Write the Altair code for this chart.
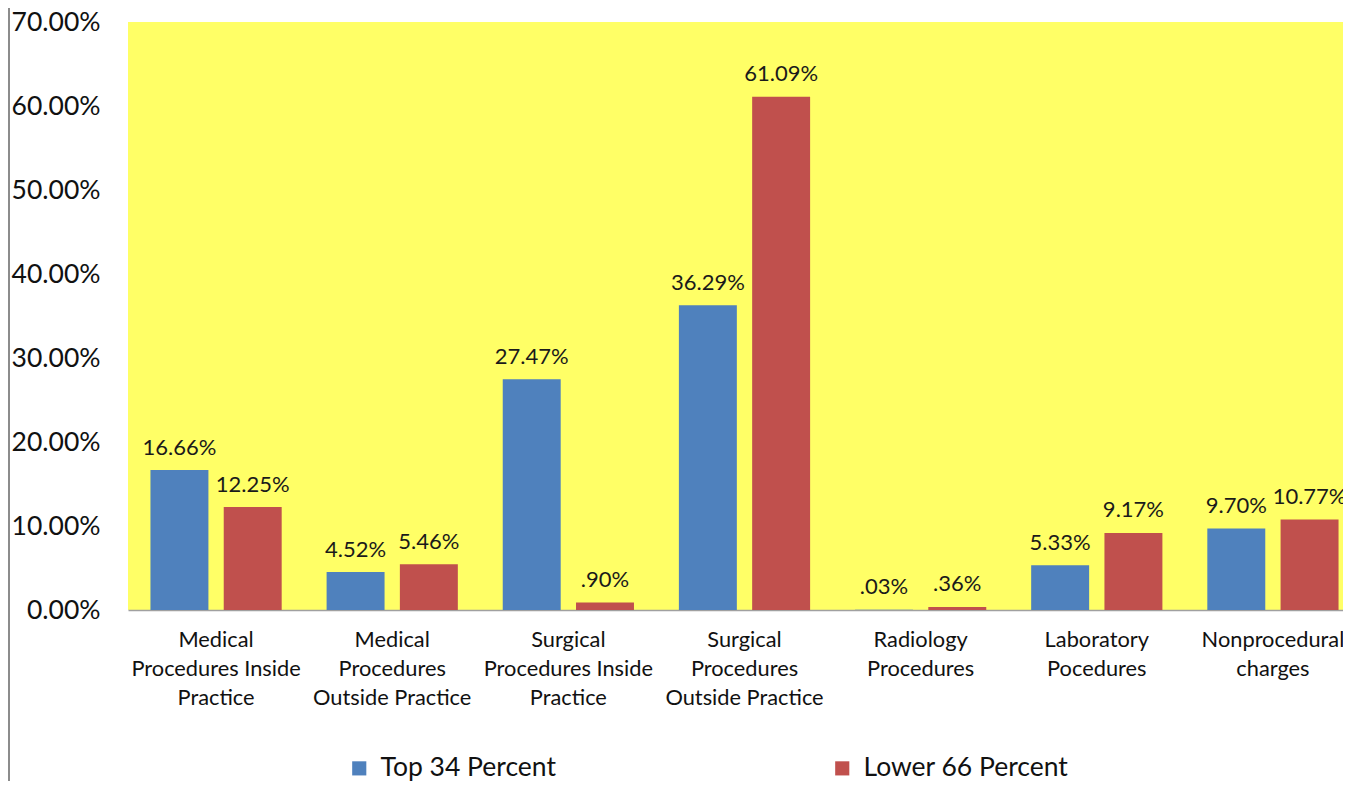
import altair as alt
import pandas as pd

categories = [
    "Medical\nProcedures Inside\nPractice",
    "Medical\nProcedures\nOutside Practice",
    "Surgical\nProcedures Inside\nPractice",
    "Surgical\nProcedures\nOutside Practice",
    "Radiology\nProcedures",
    "Laboratory\nPocedures",
    "Nonprocedural\ncharges",
]
series = ["Top 34 Percent", "Lower 66 Percent"]
top34 = [16.66, 4.52, 27.47, 36.29, 0.03, 5.33, 9.70]
lower66 = [12.25, 5.46, 0.90, 61.09, 0.36, 9.17, 10.77]
colors = ["#4F81BD", "#C0504D"]
y_ticks = [0, 10, 20, 30, 40, 50, 60, 70]


def fmt(v):
    s = f"{v:.2f}%"
    return s[1:] if s.startswith("0.") else s


rows = []
for c, a, b in zip(categories, top34, lower66):
    rows.append({"category": c, "series": series[0], "value": a, "label": fmt(a)})
    rows.append({"category": c, "series": series[1], "value": b, "label": fmt(b)})
df = pd.DataFrame(rows)

FONT = "Lato"
PLOT_W = 1215      # visible plot width (chart must fit the 1335px body)
BAND_RANGE = 1233  # the category axis runs past the right edge, as in the original
PLOT_H = 588

x_enc = alt.X(
    "category:N",
    sort=categories,
    scale=alt.Scale(domain=categories, range=[0, BAND_RANGE], paddingInner=0, paddingOuter=0),
    axis=alt.Axis(
        title=None,
        labelAngle=0,
        labelExpr="split(datum.label, '\\n')",
        labelFont=FONT,
        labelFontSize=21.8,
        labelLineHeight=29,
        labelColor="#111111",
        labelPadding=19,
        labelLimit=400,
        ticks=False,
        domainColor="#A0A0A0",
        domainWidth=1.5,
        grid=False,
    ),
)
xo_enc = alt.XOffset(
    "series:N",
    sort=series,
    scale=alt.Scale(domain=series, paddingInner=0.209, paddingOuter=0.3065),
)
y_enc = alt.Y(
    "value:Q",
    scale=alt.Scale(domain=[0, 70], nice=False, zero=True),
    axis=alt.Axis(
        title=None,
        values=y_ticks,
        labelExpr="format(datum.value, '.2f') + '%'",
        labelFont=FONT,
        labelFontSize=26.5,
        labelColor="#111111",
        labelPadding=28,
        ticks=False,
        domain=False,
        grid=False,
    ),
)

bars = alt.Chart(df).mark_bar().encode(
    x=x_enc,
    xOffset=xo_enc,
    y=y_enc,
    color=alt.Color(
        "series:N",
        sort=series,
        scale=alt.Scale(domain=series, range=colors),
        legend=alt.Legend(
            title=None,
            orient="none",
            direction="horizontal",
            legendX=218,
            legendY=733,
            symbolType="square",
            symbolSize=200,
            symbolStrokeWidth=0,
            symbolOpacity=1,
            labelFont=FONT,
            labelFontSize=26.5,
            labelColor="#111111",
            labelOffset=8,
            columnPadding=273,
            labelLimit=400,
            padding=0,
        ),
    ),
)

labels = alt.Chart(df).mark_text(
    baseline="alphabetic",
    align="center",
    dy=-15.5,
    font=FONT,
    fontSize=22,
    color="#1a1a1a",
).encode(
    x=alt.X("category:N", sort=categories),
    xOffset=alt.XOffset("series:N", sort=series),
    y=alt.Y("value:Q"),
    text="label:N",
)

edge = alt.Chart(pd.DataFrame({"a": [0]})).mark_rule(color="#8C8C8C", strokeWidth=2).encode(
    x=alt.value(-119),
    y=alt.value(-20),
    y2=alt.value(800),
)

chart = (
    alt.layer(bars, labels, edge)
    .properties(
        width=PLOT_W,
        height=PLOT_H,
        background="white",
        autosize=alt.AutoSizeParams(type="none"),
        padding={"left": 120, "top": 14, "right": 0, "bottom": 171},
    )
    .configure_view(fill="#FFFF66", stroke=None)
)

chart.save("out.html", embed_options={"renderer": "svg", "actions": False})
